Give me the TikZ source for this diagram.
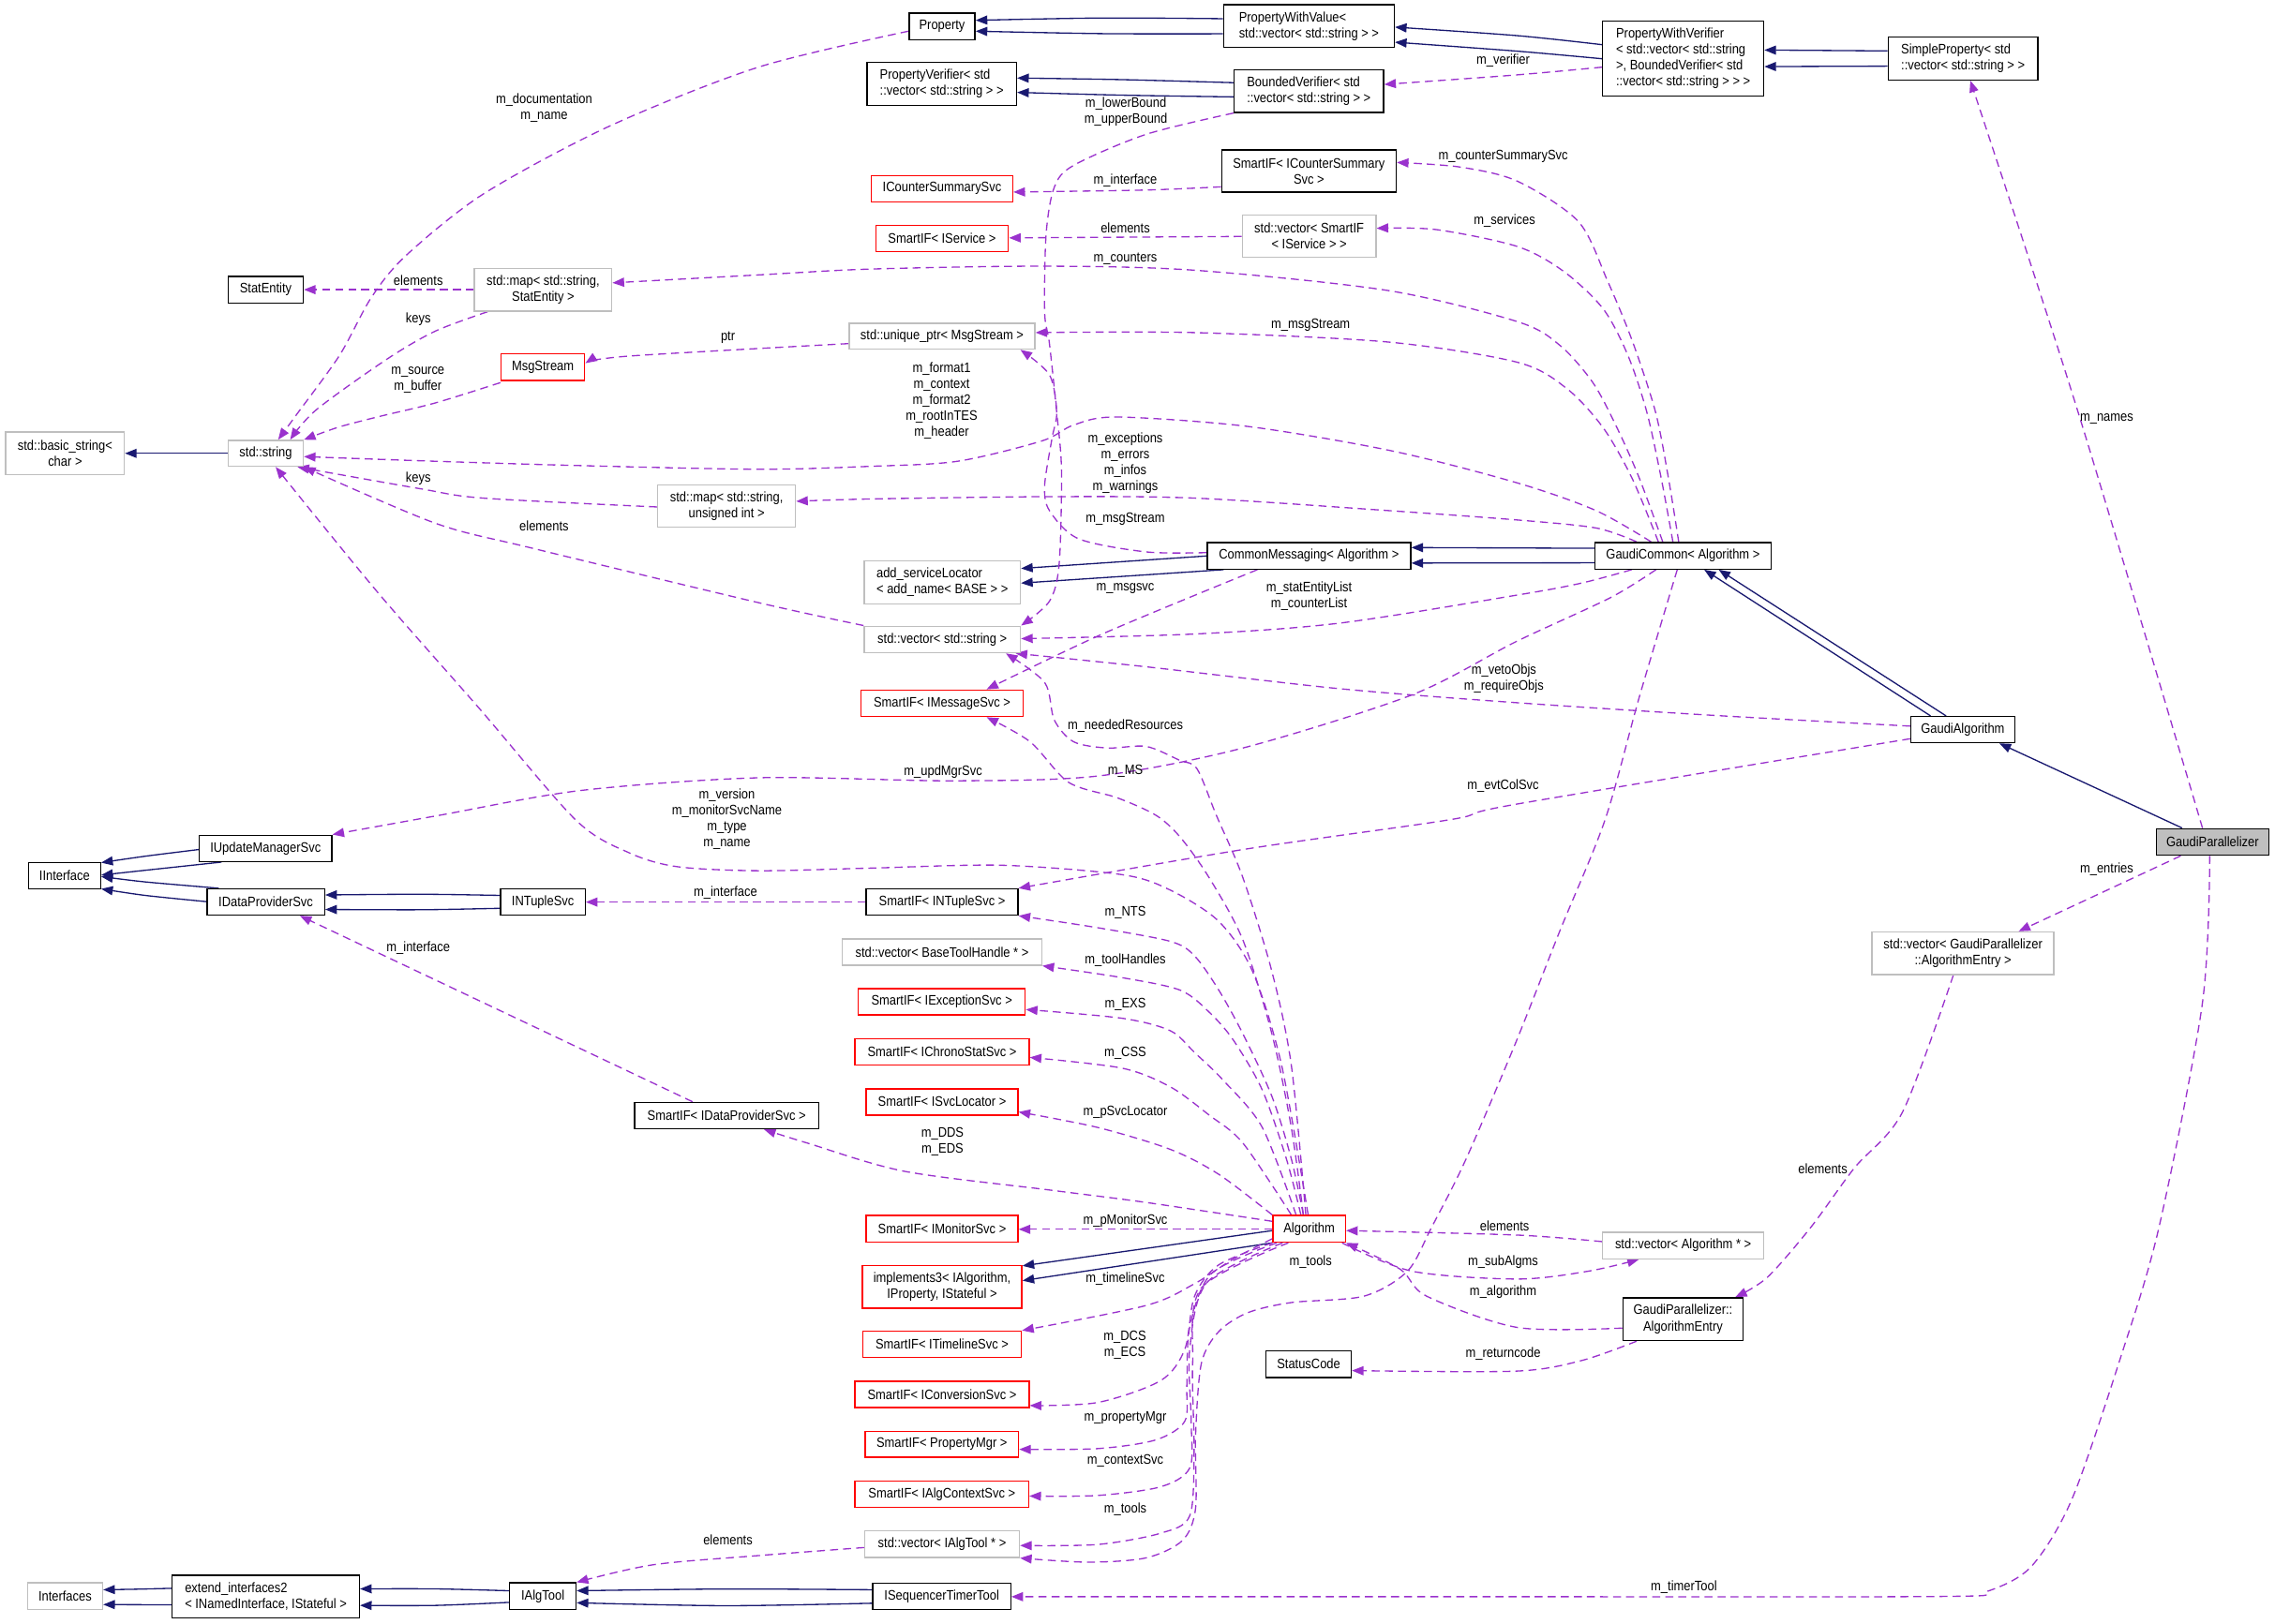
\documentclass[tikz,border=0pt]{standalone}
\usepackage{fontspec}
\setmainfont{Liberation Sans}[FakeStretch=0.88]
\usetikzlibrary{arrows.meta}
\definecolor{navyc}{HTML}{191970}
\definecolor{purp}{HTML}{9A32CD}
\definecolor{grayb}{HTML}{BFBFBF}
\newcommand\fnt{\fontsize{9.5}{11}\selectfont}
\pgfdeclarelayer{bg}\pgfsetlayers{bg,main}
\newcommand\Nd[7]{\node[#1, minimum width={(#5)-(#3)}, minimum height={(#6)-(#4)}] (#2) at ({((#3)+(#5))/2},{((#4)+(#6))/2}) {#7};}
\tikzset{
 nbase/.style={rectangle, inner sep=0pt, font=\fnt, line width=0.9pt, text=black, fill=white},
 blk/.style={nbase, draw=black},
 redb/.style={nbase, draw=red},
 gryb/.style={nbase, draw=grayb},
 lbl/.style={inner sep=0pt, font=\fnt, align=center, text=black},
 inh/.style={navyc, line width=0.85pt, -{Triangle[length=8pt,width=6.2pt]}},
 coll/.style={purp, line width=0.85pt, dash pattern=on 5.5pt off 3.5pt, -{Triangle[length=8pt,width=6.2pt]}},
}
\begin{document}
\begin{tikzpicture}[x=1pt,y=-1pt]
\useasboundingbox (0,0) rectangle (1568,1119);
\begin{pgfonlayer}{bg}
\fill[white] (0,0) rectangle (1568,1119);
\end{pgfonlayer}
% ---------------- nodes
\Nd{blk}{prop}{626.6}{9}{672}{27.3}{Property}
\Nd{blk,align=left}{pwv}{843.3}{3.2}{961}{32.7}{PropertyWithValue<\\ std::vector< std::string > >}
\Nd{blk,align=left}{pver}{597.6}{43.1}{700.6}{72.6}{PropertyVerifier< std\\::vector< std::string > >}
\Nd{blk,align=left}{bver}{850.6}{48.2}{953.6}{77.5}{BoundedVerifier< std\\::vector< std::string > >}
\Nd{blk,align=center}{sicss}{842}{103.4}{962.3}{132.4}{SmartIF< ICounterSummary\\Svc >}
\Nd{redb}{icss}{600.6}{121}{698}{139.1}{ICounterSummarySvc}
\Nd{redb}{sisvc}{603.6}{155.5}{695}{173.6}{SmartIF< IService >}
\Nd{gryb,align=center}{vsisvc}{856.3}{148.1}{948.3}{177.2}{std::vector< SmartIF\\< IService > >}
\Nd{gryb}{uptr}{585.3}{222.9}{713.3}{240.7}{std::unique\_ptr< MsgStream >}
\Nd{blk,align=left}{pwver}{1104.6}{14.6}{1215.6}{66.3}{PropertyWithVerifier\\< std::vector< std::string\\>, BoundedVerifier< std\\::vector< std::string > > >}
\Nd{blk,align=left}{sprop}{1301.3}{25.6}{1404.6}{55.1}{SimpleProperty< std\\::vector< std::string > >}
\Nd{blk}{statent}{157.3}{190.6}{209}{208.9}{StatEntity}
\Nd{gryb,align=center}{mapse}{327}{185.2}{421.7}{214.5}{std::map< std::string,\\StatEntity >}
\Nd{redb}{msgs}{345.3}{244}{403}{262.3}{MsgStream}
\Nd{gryb,align=center}{bstr}{4}{297.8}{85.7}{327.1}{std::basic\_string<\\char >}
\Nd{gryb}{str}{157.3}{303.6}{209}{321.5}{std::string}
\Nd{gryb,align=center}{mapui}{453.3}{334.2}{548.3}{363.3}{std::map< std::string,\\unsigned int >}
\Nd{blk}{cmsg}{832}{374}{972.3}{392.3}{CommonMessaging< Algorithm >}
\Nd{gryb,align=left}{addsl}{595.6}{386.7}{703.3}{416.2}{add\_serviceLocator\\< add\_name< BASE > >}
\Nd{gryb}{vstr}{595.6}{431.7}{703.3}{450}{std::vector< std::string >}
\Nd{redb}{simsg}{593.3}{475.7}{705.3}{494}{SmartIF< IMessageSvc >}
\Nd{blk}{gcom}{1099.3}{374}{1220.6}{392.3}{GaudiCommon< Algorithm >}
\Nd{blk}{galg}{1317}{494}{1388.6}{512}{GaudiAlgorithm}
\Nd{blk}{iums}{137.3}{575.8}{228.7}{593.9}{IUpdateManagerSvc}
\Nd{blk}{iint}{19.7}{594.7}{69.3}{612.8}{IInterface}
\Nd{blk}{idps}{142.7}{612.8}{223.7}{630.9}{IDataProviderSvc}
\Nd{blk}{intup}{345}{612.8}{403.3}{630.9}{INTupleSvc}
\Nd{blk}{sidps}{437.3}{760}{564.3}{778.2}{SmartIF< IDataProviderSvc >}
\Nd{blk}{sintup}{597}{612.8}{701.6}{630.9}{SmartIF< INTupleSvc >}
\Nd{gryb}{vbth}{580.6}{647.3}{718}{665.4}{std::vector< BaseToolHandle * >}
\Nd{redb}{siexc}{591.6}{681.7}{706.6}{699.8}{SmartIF< IExceptionSvc >}
\Nd{redb}{sichr}{589.3}{716.2}{709.3}{734.3}{SmartIF< IChronoStatSvc >}
\Nd{redb}{sisvcl}{597}{750.6}{701.6}{768.7}{SmartIF< ISvcLocator >}
\Nd{redb}{alg}{877.3}{838}{927.3}{856.4}{Algorithm}
\Nd{blk,fill=grayb}{gpar}{1486.3}{571.3}{1563.6}{589.6}{GaudiParallelizer}
\Nd{gryb,align=center}{vae}{1290.3}{642.5}{1415.6}{671.8}{std::vector< GaudiParallelizer\\::AlgorithmEntry >}
\Nd{gryb}{ifaces}{19}{1091.3}{70.7}{1109.6}{Interfaces}
\Nd{blk,align=left}{ext}{118.7}{1085.9}{247.7}{1115.4}{extend\_interfaces2\\< INamedInterface, IStateful >}
\Nd{blk}{ialg}{351.3}{1091.3}{397}{1109.6}{IAlgTool}
\Nd{redb}{simon}{597}{838}{701.6}{856.4}{SmartIF< IMonitorSvc >}
\Nd{redb,align=center}{impl}{594.3}{872.5}{704.3}{901.8}{implements3< IAlgorithm,\\IProperty, IStateful >}
\Nd{redb}{sitl}{594.6}{917.7}{704}{935.8}{SmartIF< ITimelineSvc >}
\Nd{redb}{sicnv}{589.3}{952.2}{709.3}{970.3}{SmartIF< IConversionSvc >}
\Nd{redb}{sipm}{596.3}{986.7}{702}{1004.7}{SmartIF< PropertyMgr >}
\Nd{redb}{sictx}{589.3}{1021.1}{709}{1039.2}{SmartIF< IAlgContextSvc >}
\Nd{gryb}{vat}{596}{1055.3}{702.6}{1073.7}{std::vector< IAlgTool * >}
\Nd{blk}{istt}{601.6}{1091.5}{696.6}{1109.6}{ISequencerTimerTool}
\Nd{blk}{stc}{872.6}{931.3}{931.3}{949.6}{StatusCode}
\Nd{gryb}{valg}{1104.6}{849.5}{1215.6}{867.8}{std::vector< Algorithm * >}
\Nd{blk,align=center}{aentry}{1118.6}{894.7}{1201.3}{924.2}{GaudiParallelizer::\\AlgorithmEntry}
% ---------------- labels
\node[lbl] (l1) at (375,74.5) {m\_documentation\\m\_name};
\node[lbl] (l2) at (288.3,193.4) {elements};
\node[lbl] (l3) at (288.3,220) {keys};
\node[lbl] (l4) at (288,262) {m\_source\\m\_buffer};
\node[lbl] (l5) at (501.7,233) {ptr};
\node[lbl] (l6) at (775.6,124.5) {m\_interface};
\node[lbl] (l7) at (775.6,157.2) {elements};
\node[lbl] (l8) at (775.6,178.3) {m\_counters};
\node[lbl] (l9) at (776,77) {m\_lowerBound\\m\_upperBound};
\node[lbl] (l10) at (1036,42) {m\_verifier};
\node[lbl] (l11) at (1036,107.7) {m\_counterSummarySvc};
\node[lbl] (l12) at (1037,152.5) {m\_services};
\node[lbl] (l13) at (903.3,224) {m\_msgStream};
\node[lbl] (l14) at (649,276.3) {m\_format1\\m\_context\\m\_format2\\m\_rootInTES\\m\_header};
\node[lbl] (l15) at (775.6,319) {m\_exceptions\\m\_errors\\m\_infos\\m\_warnings};
\node[lbl] (l16) at (288.3,330) {keys};
\node[lbl] (l17) at (375,362.4) {elements};
\node[lbl] (l18) at (775.6,358) {m\_msgStream};
\node[lbl] (l19) at (775.6,405.5) {m\_msgsvc};
\node[lbl] (l20) at (902.3,411) {m\_statEntityList\\m\_counterList};
\node[lbl] (l21) at (1036.5,468) {m\_vetoObjs\\m\_requireObjs};
\node[lbl] (l22) at (775.6,500.6) {m\_neededResources};
\node[lbl] (l23) at (650,531.9) {m\_updMgrSvc};
\node[lbl] (l24) at (775.6,531.4) {m\_MS};
\node[lbl] (l25) at (1036,542) {m\_evtColSvc};
\node[lbl] (l26) at (501,564.5) {m\_version\\m\_monitorSvcName\\m\_type\\m\_name};
\node[lbl] (l27) at (1452,288.5) {m\_names};
\node[lbl] (l28) at (1452,599) {m\_entries};
\node[lbl] (l29) at (500,615.4) {m\_interface};
\node[lbl] (l30) at (775.6,629.4) {m\_NTS};
\node[lbl] (l31) at (288.3,653.5) {m\_interface};
\node[lbl] (l32) at (775.6,661.7) {m\_toolHandles};
\node[lbl] (l33) at (775.6,692.3) {m\_EXS};
\node[lbl] (l34) at (775.6,726.3) {m\_CSS};
\node[lbl] (l35) at (775.6,766.6) {m\_pSvcLocator};
\node[lbl] (l36) at (649.6,787.2) {m\_DDS\\m\_EDS};
\node[lbl] (l37) at (1256.3,806) {elements};
\node[lbl] (l38) at (775.6,841.5) {m\_pMonitorSvc};
\node[lbl] (l39) at (1037,845) {elements};
\node[lbl] (l40) at (903.3,870) {m\_tools};
\node[lbl] (l41) at (1036,870) {m\_subAlgms};
\node[lbl] (l42) at (775.6,881.4) {m\_timelineSvc};
\node[lbl] (l43) at (1036,891) {m\_algorithm};
\node[lbl] (l44) at (775.3,927.6) {m\_DCS\\m\_ECS};
\node[lbl] (l45) at (1036,933) {m\_returncode};
\node[lbl] (l46) at (775.6,977.6) {m\_propertyMgr};
\node[lbl] (l47) at (775.6,1007.3) {m\_contextSvc};
\node[lbl] (l48) at (775.6,1040.5) {m\_tools};
\node[lbl] (l49) at (501.7,1061.6) {elements};
\node[lbl] (l50) at (1160.6,1094.5) {m\_timerTool};
% ---------------- edges
\begin{pgfonlayer}{bg}
% inheritance
\draw[inh] plot[smooth] coordinates {(pwv.west |- 0,12.9) (760,12.4) (prop.east |- 0,14)};
\draw[inh] plot[smooth] coordinates {(pwv.west |- 0,23.3) (760,23.2) (prop.east |- 0,21.5)};
\draw[inh] plot[smooth] coordinates {(pwver.west |- 0,30.8) (1046,24.6) (pwv.east |- 0,18.7)};
\draw[inh] plot[smooth] coordinates {(pwver.west |- 0,40.5) (1046,35.3) (pwv.east |- 0,29.1)};
\draw[inh] plot[smooth] coordinates {(bver.west |- 0,57) (773,54.9) (pver.east |- 0,53.8)};
\draw[inh] plot[smooth] coordinates {(bver.west |- 0,66.8) (773,65.6) (pver.east |- 0,63.7)};
\draw[inh] (sprop.west |- 0,35.1) -- (pwver.east |- 0,34.5);
\draw[inh] (sprop.west |- 0,45.6) -- (pwver.east |- 0,45.9);
\draw[inh] (str.west) -- (bstr.east |- str.west);
\draw[inh] (cmsg.west |- 0,383.3) -- (addsl.east |- 0,391.9);
\draw[inh] (843.3,0 |- cmsg.south) -- (addsl.east |- 0,402);
\draw[inh] (gcom.west |- 0,378) -- (cmsg.east |- 0,377.5);
\draw[inh] (gcom.west |- 0,388) -- (cmsg.east |- 0,388.2);
\draw[inh] (1330.6,0 |- galg.north) -- (1174.6,0 |- gcom.south);
\draw[inh] (1341.3,0 |- galg.north) -- (1184.6,0 |- gcom.south);
\draw[inh] (1504,0 |- gpar.north) -- (1378,0 |- galg.south);
\draw[inh] plot[smooth] coordinates {(iums.west |- 0,585.7) (100,590.3) (iint.east |- 0,594.7)};
\draw[inh] plot[smooth] coordinates {(152.7,0 |- iums.south) (100,600) (iint.east |- 0,603.3)};
\draw[inh] plot[smooth] coordinates {(150.7,0 |- idps.north) (100,608) (iint.east |- 0,604.3)};
\draw[inh] plot[smooth] coordinates {(idps.west |- 0,621.6) (100,617.3) (iint.east |- 0,612.8)};
\draw[inh] plot[smooth] coordinates {(intup.west |- 0,617.3) (290,616.5) (idps.east |- 0,617)};
\draw[inh] plot[smooth] coordinates {(intup.west |- 0,626.2) (290,627.2) (idps.east |- 0,627)};
\draw[inh] (alg.west |- 0,848.4) -- (impl.east |- 0,872.7);
\draw[inh] (alg.south west) -- (impl.east |- 0,882.9);
\draw[inh] plot[smooth] coordinates {(ext.west |- 0,1095) (95,1095.6) (ifaces.east |- 0,1096)};
\draw[inh] plot[smooth] coordinates {(ext.west |- 0,1106.4) (95,1106.3) (ifaces.east |- 0,1106.2)};
\draw[inh] plot[smooth] coordinates {(ialg.west |- 0,1096.7) (300,1095.4) (ext.east |- 0,1095.4)};
\draw[inh] plot[smooth] coordinates {(ialg.west |- 0,1104.7) (300,1106.8) (ext.east |- 0,1106.8)};
\draw[inh] plot[smooth] coordinates {(istt.west |- 0,1096) (500,1095.5) (ialg.east |- 0,1096.7)};
\draw[inh] plot[smooth] coordinates {(istt.west |- 0,1105.3) (500,1107) (ialg.east |- 0,1105)};
% collaboration
\draw[coll] plot[smooth] coordinates {(prop.west |- 0,21.5) (522.7,46.3) (420,87) (333.5,133.5) (280,176) (256,205) (234,245) (205,285) (191.7,0 |- str.north)};
\draw[coll] plot[smooth] coordinates {(336,0 |- mapse.south) (300,228.3) (266.7,247.6) (218,282.5) (200,0 |- str.north)};
\draw[coll] plot[smooth] coordinates {(msgs.west |- 0,263.8) (300,277.8) (262,287) (233.3,294.5) (str.north east)};
\draw[coll] plot[smooth] coordinates {(1138,0 |- gcom.north) (1100,352) (1046,333) (960,311) (860,294) (770,287.5) (740,293) (718,304) (660,318) (600,321.5) (523,323.5) (400,321) (300,318) (str.east |- 0,314.8)};
\draw[coll] plot[smooth] coordinates {(1146,0 |- gcom.north) (1130,330) (1115,296) (1098,264) (1075,238) (1046,221.8) (956.7,200.3) (823.3,186.3) (720,183.5) (600,185.5) (523.3,189.5) (mapse.east |- 0,195)};
\draw[coll] plot[smooth] coordinates {(1157,0 |- gcom.north) (1150,330) (1141,284) (1125,235) (1108,193.8) (1088,152.9) (1046,125) (1006.6,115.2) (sicss.east |- 0,112)};
\draw[coll] plot[smooth] coordinates {(1153,0 |- gcom.north) (1145,330) (1135,284) (1122,245) (1105,213) (1078,187.3) (1046,170) (990,158.3) (vsisvc.east |- 0,157.4)};
\draw[coll] plot[smooth] coordinates {(sicss.west |- 0,128.8) (790,131) (icss.east |- 0,132.4)};
\draw[coll] (vsisvc.west |- 0,163) -- (sisvc.east |- 0,164);
\draw[coll] plot[smooth] coordinates {(bver.south west) (790,92.6) (740,114) (726.6,129.2) (721,161.5) (720,215.3) (723.3,236.9) (728.3,284.2) (731.6,324) (730,388.7) (723.3,414.5) (vstr.north east)};
\draw[coll] plot[smooth] coordinates {(cmsg.west |- 0,381) (790,380.5) (743.3,371.4) (723.3,352) (720,334.8) (725,302.5) (728.3,284.2) (723.3,258.4) (703.3,0 |- uptr.south)};
\draw[coll] plot[smooth] coordinates {(1143,0 |- gcom.north) (1125,330) (1105,295) (1080,268) (1046,249.8) (956.7,235.8) (823.3,229.3) (uptr.east |- 0,229.3)};
\draw[coll] plot[smooth] coordinates {(uptr.west |- 0,236.9) (433.3,245.5) (msgs.east |- 0,250.4)};
\draw[coll] (mapse.west |- 0,199.7) -- (statent.east |- 0,199.7);
\draw[coll] plot[smooth] coordinates {(1128,0 |- gcom.north) (1100,364) (1046,358.5) (956.6,352) (823.3,343.4) (723.3,342.4) (600,344) (mapui.east |- 0,345.6)};
\draw[coll] plot[smooth] coordinates {(mapui.west |- 0,349.5) (333,343.4) (290,337) (205,0 |- str.south)};
\draw[coll] plot[smooth] coordinates {(vstr.north west) (523.3,415.6) (366.7,377.9) (300,360.7) (str.south east)};
\draw[coll] plot[smooth] coordinates {(901.6,0 |- alg.north) (883.3,734.3) (863.3,669.7) (840,635.2) (806.7,613.7) (773.3,603) (690,596.5) (600,598.5) (523,600.3) (466.7,597.5) (433.3,587.8) (396.7,565.2) (330,488) (260,408) (190,0 |- str.south)};
\draw[coll] plot[smooth] coordinates {(866.6,0 |- cmsg.south) (760,437) (680,0 |- simsg.north)};
\draw[coll] plot[smooth] coordinates {(898.3,0 |- alg.north) (890,777.3) (876.6,712.7) (856.6,648) (833.3,605) (813.3,577) (796.6,562) (770,550) (736.6,539.4) (710,511.4) (680,0 |- simsg.south)};
\draw[coll] plot[smooth] coordinates {(900,0 |- alg.north) (890,734.3) (876.6,669.7) (856.6,605) (838.3,562) (825,530) (813.3,524.3) (790,514.6) (763.3,515.7) (740,511.4) (726.6,496.3) (720,470.5) (693.3,0 |- vstr.south)};
\draw[coll] plot[smooth] coordinates {(1124.6,0 |- gcom.south) (1090,402) (1046,410.2) (923.3,429.6) (823.3,437.1) (vstr.east |- 0,440.3)};
\draw[coll] plot[smooth] coordinates {(galg.west |- 0,500.6) (1178,493) (1046,484.5) (923.3,474.8) (790,459.7) (700,0 |- vstr.south)};
\draw[coll] plot[smooth] coordinates {(1141.3,0 |- gcom.south) (1110,412) (1044.6,442.5) (973.3,479) (856.6,515.7) (756.6,535) (656.6,538.3) (523.3,536.2) (400,545) (303.3,562) (iums.north east)};
\draw[coll] plot[smooth] coordinates {(galg.west |- 0,509.3) (1044.6,554.5) (1000,565) (856.6,585.7) (sintup.north east)};
\draw[coll] (sintup.west |- 0,621.9) -- (intup.east |- 0,621.9);
\draw[coll] (477.3,0 |- sidps.north) -- (206.7,0 |- idps.south);
\draw[coll] plot[smooth] coordinates {(alg.west |- 0,842) (790,829) (723.3,820.4) (623.3,807.5) (556.6,788.1) (526.6,0 |- sidps.south)};
\draw[coll] plot[smooth] coordinates {(898.3,0 |- alg.north) (890,798.9) (876.6,755.8) (856.6,712.7) (840,682.6) (823.3,659) (806.6,649) (756,639.5) (sintup.south east)};
\draw[coll] plot[smooth] coordinates {(896.6,0 |- alg.north) (886.6,798.9) (870,751.5) (850,717) (833.3,697.7) (813.3,682.6) (773.3,674) (vbth.south east)};
\draw[coll] plot[smooth] coordinates {(893.3,0 |- alg.north) (870,777.3) (843.3,745) (823.3,725.6) (806.6,710.6) (773.3,702) (siexc.east |- 0,696)};
\draw[coll] plot[smooth] coordinates {(890,0 |- alg.north) (856.6,788) (833.3,768.7) (806.6,749.3) (773.3,736.4) (sichr.east |- 0,729)};
\draw[coll] plot[smooth] coordinates {(alg.north west) (840,809.6) (806.6,792.4) (756.6,777.3) (sisvcl.east |- 0,766.6)};
\draw[coll] (alg.west |- 0,847.5) -- (simon.east |- 0,847.5);
\draw[coll] plot[smooth] coordinates {(alg.west |- 0,854) (850,868) (823.3,885) (790,900) (sitl.north east)};
\draw[coll] plot[smooth] coordinates {(alg.south west) (840,872) (823.3,893.6) (816.6,930.2) (800,951.8) (756.6,966.9) (sicnv.east |- 0,969)};
\draw[coll] plot[smooth] coordinates {(880,0 |- alg.south) (835,878) (820,915) (818,955) (816.6,979.8) (796.6,992.7) (756.6,998.7) (sipm.east |- 0,999.2)};
\draw[coll] plot[smooth] coordinates {(884,0 |- alg.south) (832,884) (820,930) (821,980) (820,1012) (800,1025) (756.6,1031) (sictx.east |- 0,1031.4)};
\draw[coll] plot[smooth] coordinates {(888,0 |- alg.south) (828,888) (822,940) (823,1000) (820,1045) (800,1057) (756.6,1064.8) (vat.east |- 0,1065.5)};
\draw[coll] plot[smooth] coordinates {(1156,0 |- gcom.south) (1130,480) (1106.3,565) (1075,642) (1044.6,719) (1010,800) (986.6,846.3) (970,876.4) (940,893.6) (890,898) (860,905) (840,918) (828,940) (824,990) (824,1040) (815,1062) (790,1074) (750,1077) (vat.south east)};
\draw[coll] plot[smooth] coordinates {(vat.west |- 0,1066.9) (523.3,1072.4) (450,1078.8) (ialg.north east)};
\draw[coll] plot[smooth] coordinates {(1523,0 |- gpar.south) (1518,691.2) (1488,846.2) (1461.3,936.7) (1428,1033.6) (1400,1080) (1370,1097) (1340,1100.6) (1044.6,1100.8) (istt.east |- 0,1100.8)};
\draw[coll] plot[smooth] coordinates {(1518,0 |- gpar.north) (1431.3,281) (1358,0 |- sprop.south)};
\draw[coll] (1503,0 |- gpar.south) -- (1391.3,0 |- vae.north);
\draw[coll] plot[smooth] coordinates {(1346.3,0 |- vae.south) (1311.3,766.6) (1278,805.3) (1248,846.2) (1218,880.7) (1196,0 |- aentry.north)};
\draw[coll] plot[smooth] coordinates {(aentry.west |- 0,915.6) (1046,915.2) (983.3,893.6) (965,875) (alg.south east)};
\draw[coll] plot[smooth] coordinates {(1128,0 |- aentry.south) (1090,938) (1044.6,945.3) (stc.east |- 0,944.9)};
\draw[coll] plot[smooth] coordinates {(valg.west |- 0,856) (1046,851.5) (alg.east |- 0,848.4)};
\draw[coll] plot[smooth] coordinates {(925,0 |- alg.south) (973.3,876.4) (1046,881.8) (1094.6,876.4) (1129.6,0 |- valg.south)};
\draw[coll] plot[smooth] coordinates {(pwver.west |- 0,46.3) (1044.6,51.7) (bver.east |- 0,58.2)};
\end{pgfonlayer}
\end{tikzpicture}
\end{document}
